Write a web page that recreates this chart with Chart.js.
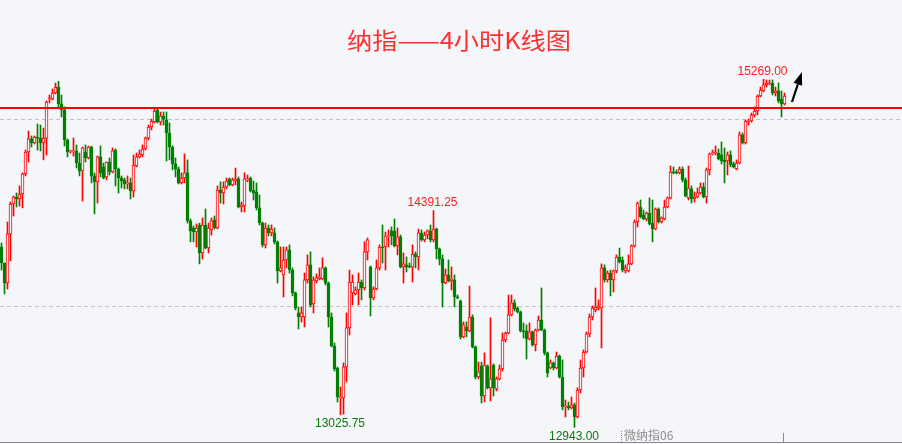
<!DOCTYPE html>
<html><head><meta charset="utf-8">
<script src="https://cdn.jsdelivr.net/npm/chart.js@4.4.1/dist/chart.umd.min.js"></script>
<style>html,body{margin:0;padding:0;background:#f5f6fa;overflow:hidden}canvas{display:block}</style>
</head><body>
<canvas id="c" width="902" height="444"></canvas>
<script>
const TITLE = '纳指——4小时K线图';
const SYMBOL = '微纳指06';

const OPEN = [
14148,14041,13907,14235,14435,14482,14469,14502,14636,14783,
14870,14843,14883,14876,14843,14876,15137,15137,15177,15217,
15104,15064,14863,14783,14783,14790,14709,14656,14783,14743,
14816,14623,14583,14750,14683,14616,14716,14649,14796,14669,
14609,14596,14569,14576,14522,14689,14750,14763,14803,14876,
14950,14983,15064,14983,15023,14997,14910,14816,14703,14669,
14576,14609,14643,14322,14275,14248,14295,14108,14295,14141,
14262,14329,14275,14529,14509,14549,14603,14563,14589,14603,
14415,14422,14596,14609,14529,14516,14409,14308,14162,14275,
14242,14242,14182,13988,13961,14061,14128,13994,13841,13707,
13680,13680,13928,14028,13767,13921,13934,13934,14008,13907,
13680,13486,13339,13139,13139,13346,13607,13841,13834,13861,
13914,13874,14115,14015,13807,13867,14008,14148,14148,14215,
14255,14255,14155,14215,14015,14028,14021,14015,14101,14081,
14242,14195,14228,14255,14195,14268,14135,14068,13907,13961,
13921,13928,13814,13787,13547,13613,13587,13680,13480,13279,
13353,13152,13353,13206,13359,13199,13266,13333,13526,13573,
13694,13774,13740,13714,13587,13587,13533,13580,13493,13593,
13660,13593,13440,13339,13373,13339,13419,13279,13079,13085,
13072,13092,13012,13192,13339,13446,13567,13680,13727,13740,
13740,14008,13928,13974,13928,13988,14081,14061,13988,13988,
14035,14155,14315,14415,14362,14335,14375,14308,14268,14402,
14315,14335,14415,14476,14649,14649,14643,14669,14596,14476,
14536,14469,14482,14509,14549,14482,14663,14770,14776,14776,
14763,14730,14723,14763,14703,14669,14709,14897,14843,14983,
14990,15030,15057,15157,15191,15231,15237,15244,15177,15191,
15137,15104
];
const HIGH = [
14175,14041,14315,14449,14489,14509,14556,14643,14796,14923,
14890,14890,14970,14963,14943,15124,15164,15204,15244,15255,
15164,15084,14870,14796,14876,14830,14776,14816,14830,14823,
14823,14643,14756,14823,14709,14716,14743,14810,14803,14676,
14623,14609,14623,14609,14763,14776,14796,14830,14883,14963,
15003,15077,15077,15050,15050,15050,14977,14823,14743,14683,
14643,14770,14730,14335,14288,14302,14308,14342,14402,14308,
14342,14355,14556,14583,14583,14609,14609,14609,14676,14616,
14449,14643,14629,14616,14589,14576,14496,14315,14308,14295,
14295,14275,14188,14148,14148,14148,14162,14008,13847,13747,
13747,13974,14095,14115,13948,13968,14008,14075,14015,13914,
13707,13506,13346,13212,13373,13707,13994,13961,13881,13974,
13928,14182,14208,14021,13881,14061,14162,14295,14248,14262,
14282,14335,14275,14228,14108,14081,14041,14162,14115,14268,
14262,14248,14262,14295,14391.25,14275,14141,14095,14001,14061,
14015,13961,13827,13794,13647,13647,13887,13694,13486,13379,
13379,13440,13359,13674,13366,13279,13359,13573,13580,13827,
13827,13794,13747,13720,13640,13627,13640,13587,13600,13687,
13874,13600,13446,13393,13379,13446,13426,13393,13125,13112,
13145,13105,13206,13393,13460,13580,13700,13754,13874,13794,
14035,14028,13988,13994,13994,14095,14141,14081,14028,14095,
14162,14329,14449,14462,14395,14382,14476,14462,14409,14409,
14349,14462,14482,14689,14683,14663,14683,14683,14609,14689,
14556,14516,14542,14576,14576,14676,14776,14796,14823,14803,
14850,14810,14783,14790,14716,14730,14917,14910,14997,15003,
15043,15084,15164,15217,15269,15264,15264,15264,15217,15244,
15191,15177
];
const LOW = [
13994,13834,13867,14055,14355,14415,14422,14409,14623,14716,
14816,14836,14796,14790,14730,14763,15111,15131,15171,15084,
15017,14823,14750,14776,14756,14676,14623,14455,14716,14736,
14576,14369,14442,14616,14603,14596,14629,14643,14556,14509,
14542,14536,14536,14469,14482,14683,14743,14750,14796,14863,
14930,14977,14977,14963,14963,14723,14730,14663,14616,14569,
14569,14576,14308,14182,14182,14148,14035,14068,14135,14108,
14228,14268,14268,14442,14435,14536,14556,14556,14563,14409,
14382,14382,14583,14516,14462,14395,14295,14148,14141,14222,
14222,14168,13907,13981,13814,14008,13974,13821,13727,13600,
13647,13613,13907,13747,13707,13907,13928,13928,13894,13613,
13480,13319,13112,13025.75,13030,13246,13560,13761,13827,13761,
13794,13861,14061,13687,13794,13861,13994,14041,13994,14148,
14162,14148,14095,14008,13907,13981,14008,13914,14008,13994,
14188,14182,14202,14182,14182,14068,14028,13747,13901,13914,
13861,13747,13801,13533,13540,13547,13580,13473,13266,13266,
13105,13112,13199,13119,13152,13185,13259,13319,13513,13567,
13687,13720,13707,13580,13540,13399,13526,13486,13453,13587,
13587,13426,13279,13333,13326,13333,13272,13059,13012,13059,
13065,12943,13005,13172,13279,13440,13547,13660,13714,13727,
13473,13914,13914,13821,13847,13974,14041,13981,13974,13981,
14028,14148,14282,14342,14329,14322,14295,14182,14262,14308,
14308,14329,14409,14469,14636,14636,14636,14583,14482,14462,
14442,14449,14476,14502,14476,14442,14629,14763,14763,14730,
14703,14576,14629,14683,14676,14663,14703,14836,14836,14963,
14983,15017,15030,15151,15184,15217,15231,15164,15157,15111,
15017,15097
];
const CLOSE = [
14041,13907,14235,14435,14482,14469,14502,14636,14783,14870,
14843,14883,14876,14843,14876,15117,15144,15177,15217,15104,
15064,14863,14783,14790,14790,14709,14656,14810,14743,14816,
14623,14583,14750,14643,14609,14716,14649,14790,14669,14609,
14589,14569,14576,14522,14696,14750,14770,14803,14876,14950,
14990,15057,14983,15023,15003,14910,14816,14703,14669,14576,
14609,14643,14322,14255,14248,14275,14108,14295,14141,14275,
14322,14275,14529,14509,14549,14589,14563,14596,14603,14415,
14429,14603,14603,14522,14509,14409,14308,14162,14275,14242,
14268,14182,13988,14008,14061,14128,13994,13841,13740,13680,
13707,13928,14028,13761,13928,13941,13948,14008,13907,13680,
13486,13333,13145,13145,13346,13607,13914,13914,13861,13914,
13874,14115,14195,13807,13867,14008,14148,14141,14222,14222,
14222,14155,14215,14015,14035,14015,14015,14101,14081,14242,
14195,14228,14255,14195,14268,14135,14068,13907,13961,13921,
13934,13814,13807,13547,13627,13587,13680,13480,13279,13313,
13152,13359,13206,13266,13206,13266,13333,13526,13573,13694,
13774,13734,13714,13587,13580,13533,13580,13493,13593,13660,
13593,13440,13306,13373,13339,13419,13279,13079,13085,13072,
13092,13012,13192,13339,13446,13567,13680,13740,13747,13754,
14008,13928,13974,13928,13988,14081,14048,13994,14008,14035,
14155,14315,14442,14349,14335,14375,14302,14268,14402,14315,
14342,14415,14476,14649,14643,14643,14669,14596,14489,14542,
14469,14482,14509,14549,14482,14663,14770,14776,14783,14736,
14723,14716,14763,14696,14683,14709,14897,14843,14990,14990,
15030,15057,15157,15197,15231,15244,15244,15177,15191,15124,
15104,15157
];

// horizontal reference levels
const GRID_LEVELS = [13750, 15000];
const RESISTANCE = 15080;
// candles whose extreme price is written on the chart
const HIGH_MARKS = [254, 144];
const LOW_MARKS = [113, 191];
// arrow drawn after the last candle (candle index, price)
const ARROW_FROM = [263.5, 15117];
const ARROW_TO = [266.8, 15318];

const BG = '#f5f6fa';
const UP = '#ff0000';
const DOWN = '#008000';
const isUp = i => CLOSE[i] >= OPEN[i];

const wickData = OPEN.map((_, i) => ({x: i, y: [LOW[i], HIGH[i]]}));
const bodyData = OPEN.map((_, i) => ({x: i, y: [OPEN[i], CLOSE[i]]}));

const decor = {
  id: 'decor',
  beforeDraw(chart) {
    const c = chart.ctx;
    c.save();
    c.fillStyle = BG;
    c.fillRect(0, 0, chart.width, chart.height);
    c.restore();
  },
  beforeDatasetsDraw(chart) {
    const c = chart.ctx, y = chart.scales.y;
    c.save();
    c.strokeStyle = '#c4c4c8';
    c.lineWidth = 1;
    c.setLineDash([4, 3]);
    GRID_LEVELS.forEach(v => {
      const py = Math.floor(y.getPixelForValue(v)) + 0.5;
      c.beginPath(); c.moveTo(0, py); c.lineTo(chart.width, py); c.stroke();
    });
    c.restore();
  },
  afterDatasetsDraw(chart) {
    const c = chart.ctx, x = chart.scales.x, y = chart.scales.y;
    c.save();
    // resistance line
    c.strokeStyle = '#ff0000';
    c.lineWidth = 2;
    const ry = Math.round(y.getPixelForValue(RESISTANCE));
    c.beginPath(); c.moveTo(0, ry); c.lineTo(chart.width, ry); c.stroke();

    // extreme labels
    c.font = '12px "Liberation Sans", Arial, sans-serif';
    c.textAlign = 'center';
    c.textBaseline = 'alphabetic';
    c.fillStyle = '#ff1a1a';
    HIGH_MARKS.forEach(i => {
      c.fillText(HIGH[i].toFixed(2), x.getPixelForValue(i) - 1, y.getPixelForValue(HIGH[i]) - 4.5);
    });
    c.fillStyle = '#0c7a0c';
    LOW_MARKS.forEach(i => {
      c.fillText(LOW[i].toFixed(2), x.getPixelForValue(i) - 0.5, y.getPixelForValue(LOW[i]) + 12.5);
    });

    // arrow
    const x0 = x.getPixelForValue(ARROW_FROM[0]), y0 = y.getPixelForValue(ARROW_FROM[1]);
    const x1 = x.getPixelForValue(ARROW_TO[0]), y1 = y.getPixelForValue(ARROW_TO[1]);
    const ang = Math.atan2(y1 - y0, x1 - x0);
    const hl = 13, hw = 4.5;
    const bx = x1 - hl * Math.cos(ang), by = y1 - hl * Math.sin(ang);
    c.strokeStyle = '#000'; c.fillStyle = '#000'; c.lineWidth = 2.2;
    c.beginPath(); c.moveTo(x0, y0); c.lineTo(bx, by); c.stroke();
    c.beginPath();
    c.moveTo(x1, y1);
    c.lineTo(bx + hw * Math.sin(ang), by - hw * Math.cos(ang));
    c.lineTo(bx - hw * Math.sin(ang), by + hw * Math.cos(ang));
    c.closePath(); c.fill();

    // title, fitted to the reference width
    c.font = '23px "Noto Sans CJK SC", sans-serif';
    c.fillStyle = '#ff3030';
    c.textAlign = 'center';
    c.textBaseline = 'middle';
    const tw = c.measureText(TITLE).width;
    c.save();
    c.translate(459, 40);
    c.scale(224 / tw, 1);
    c.fillText(TITLE, 0, 0);
    c.restore();

    // bottom axis line, current-bar tick, symbol
    c.fillStyle = '#8a8a8a';
    c.fillRect(0, 442, chart.width, 1);
    const tx = Math.round(x.getPixelForValue(OPEN.length - 1)) - 1;
    c.fillRect(tx, 433, 1, 9);
    for (let yy = 431; yy < 442; yy += 2) c.fillRect(621, yy, 1, 1);
    c.font = '12px "Noto Sans CJK SC", sans-serif';
    c.fillStyle = '#8c8c8c';
    c.textAlign = 'left';
    c.textBaseline = 'alphabetic';
    c.fillText(SYMBOL, 624, 440);
    c.restore();
  }
};

new Chart(document.getElementById('c'), {
  type: 'bar',
  data: {
    datasets: [
      {
        label: 'wick', data: wickData, order: 2, grouped: false,
        barThickness: 1, borderWidth: 0,
        backgroundColor: ctx => isUp(ctx.dataIndex) ? UP : DOWN
      },
      {
        label: 'body', data: bodyData, order: 1, grouped: false,
        barThickness: 3, borderWidth: 1, borderSkipped: false, minBarLength: 1,
        backgroundColor: ctx => isUp(ctx.dataIndex) ? BG : DOWN,
        borderColor: ctx => isUp(ctx.dataIndex) ? UP : DOWN
      }
    ]
  },
  options: {
    responsive: false,
    animation: false,
    devicePixelRatio: 1,
    layout: {padding: 0},
    plugins: {legend: {display: false}, tooltip: {enabled: false}, title: {display: false}},
    scales: {
      x: {type: 'linear', offset: false, min: -0.5, max: 300.1667, display: false},
      y: {type: 'linear', min: 12831.0, max: 15798.7, display: false}
    }
  },
  plugins: [decor]
});
</script>
</body></html>
